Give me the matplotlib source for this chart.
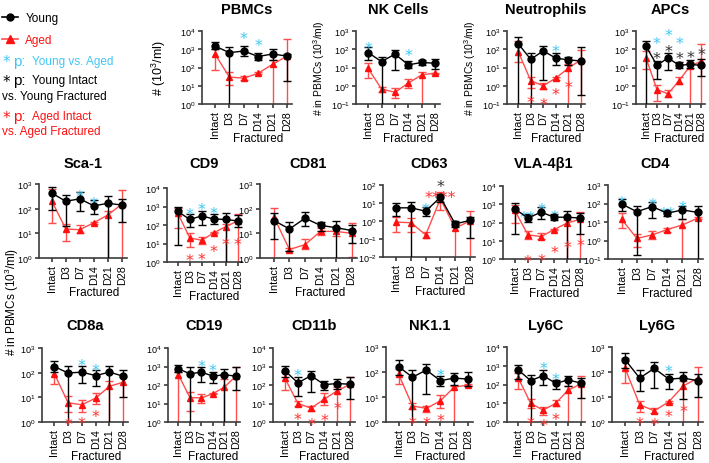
import numpy as np
import matplotlib
matplotlib.use('Agg')
import matplotlib.pyplot as plt
from matplotlib.lines import Line2D
from matplotlib.ticker import LogLocator, NullLocator

plt.rcParams['font.family'] = ['Liberation Sans', 'DejaVu Sans']
plt.rcParams['mathtext.fontset'] = 'custom'
plt.rcParams['mathtext.rm'] = 'Liberation Sans'
plt.rcParams['mathtext.it'] = 'Liberation Sans:italic'
plt.rcParams['mathtext.bf'] = 'Liberation Sans:bold'

W, H = 709, 464
days = ['Intact', 'D3', 'D7', 'D14', 'D21', 'D28']
BOTTOM = 1e-4  # error bars that run off the bottom of the axis

# ---- data: mean, lower and upper error bound, young then aged ----
pbmc_young = [1500, 650, 800, 400, 550, 420]
pbmc_young_lo = [1000, BOTTOM, 420, 250, 250, 18]
pbmc_young_hi = [2400, 1300, 1500, 650, 1000, 550]
pbmc_aged = [550, 30, 26, 48, 150, 420]
pbmc_aged_lo = [75, 11, 20, 42, BOTTOM, BOTTOM]
pbmc_aged_hi = [1000, 55, 33, 55, 250, 3500]

nk_young = [66, 21, 54, 14, 19, 17]
nk_young_lo = [26, BOTTOM, 7.4, 9, 13, 8]
nk_young_hi = [130, 40, 86, 22, 26, 28]
nk_aged = [9, 0.66, 0.44, 1.4, 4, 4.9]
nk_aged_lo = [2.6, 0.48, 0.21, 0.74, BOTTOM, 4.5]
nk_aged_hi = [17, 0.9, 0.74, 2.4, 6, 5.3]

neut_young = [200, 28, 81, 33, 26, 23]
neut_young_lo = [BOTTOM, BOTTOM, 2.1, 14, 13, 0.32]
neut_young_hi = [450, 66, 160, 60, 40, 140]
neut_aged = [74, 1.9, 1.0, 2.6, 9, 26]
neut_aged_lo = [21, 0.74, 0.65, 2.2, BOTTOM, BOTTOM]
neut_aged_hi = [270, 3.2, 1.4, 3.0, 15, 86]

apc_young = [150, 13, 34, 13, 15, 13]
apc_young_lo = [BOTTOM, 2.4, 7, 9, 10, 3.6]
apc_young_hi = [280, 22, 65, 19, 27, 28]
apc_aged = [34, 0.62, 0.36, 1.9, 12, 22]
apc_aged_lo = [7.8, 0.15, 0.25, 1.2, BOTTOM, BOTTOM]
apc_aged_hi = [80, 1.1, 0.55, 3, 18, 200]

sca_young = [430, 200, 250, 130, 165, 140]
sca_young_lo = [90, 20, 83, 60, BOTTOM, 30]
sca_young_hi = [750, 360, 490, 215, 340, 250]
sca_aged = [210, 15, 14, 27, 56, 155]
sca_aged_lo = [27, 4.7, 10, 24, BOTTOM, BOTTOM]
sca_aged_hi = [600, 24, 21, 30, 80, 570]

cd9_young = [540, 200, 310, 210, 200, 165]
cd9_young_lo = [8.5, 75, 100, 120, BOTTOM, 80]
cd9_young_hi = [950, 370, 550, 370, 430, 330]
cd9_aged = [430, 20, 15, 38, 82, 165]
cd9_aged_lo = [70, 6.5, 10, 35, BOTTOM, BOTTOM]
cd9_aged_hi = [800, 35, 22, 42, 120, 400]

cd81_young = [33, 15, 41, 21, 17, 13]
cd81_young_lo = [6, 2, 19, 13, BOTTOM, 4]
cd81_young_hi = [66, 28, 72, 30, 33, 21]
cd81_aged = [45, 2.2, 3.5, 12, 12, 10]
cd81_aged_lo = [BOTTOM, 1.9, 2.4, 8.5, 8, 1.1]
cd81_aged_hi = [110, 2.6, 6, 16, 18, 27]

cd63_young = [5.4, 5.4, 3.5, 21, 0.69, 1.07]
cd63_young_lo = [2, BOTTOM, 2.0, 12, 0.45, 0.11]
cd63_young_hi = [10, 12, 6, 32, 1.05, 1.6]
cd63_aged = [0.87, 0.8, 0.17, 17, 0.4, 1.0]
cd63_aged_lo = [0.24, 0.25, 0.12, 4.2, BOTTOM, BOTTOM]
cd63_aged_hi = [1.6, 1.5, 0.24, 43, 0.6, 3.8]

vla_young = [560, 175, 370, 195, 195, 175]
vla_young_lo = [24, 110, 160, 130, BOTTOM, 24]
vla_young_hi = [1100, 300, 700, 290, 450, 320]
vla_aged = [460, 21, 17, 41, 95, 150]
vla_aged_lo = [100, 12, 12, 37, BOTTOM, BOTTOM]
vla_aged_hi = [900, 35, 25, 45, 130, 370]

cd4_young = [94, 36, 68, 30, 45, 33]
cd4_young_lo = [41, 0.17, 16, 22, 14, BOTTOM]
cd4_young_hi = [175, 70, 115, 42, 70, 70]
cd4_aged = [14, 1.3, 2, 3.9, 7, 16]
cd4_aged_lo = [5, 0.43, 1.2, 3, BOTTOM, 14]
cd4_aged_hi = [30, 2.3, 3.2, 5, 14, 18]

cd8_young = [175, 97, 105, 76, 105, 72]
cd8_young_lo = [105, BOTTOM, 37, 30, BOTTOM, 10]
cd8_young_hi = [290, 195, 190, 130, 190, 130]
cd8_aged = [90, 6, 5, 9.3, 28, 41]
cd8_aged_lo = [35, 2.5, 2.5, 5.5, BOTTOM, BOTTOM]
cd8_aged_hi = [150, 11, 8, 15, 45, 65]

cd19_young = [760, 400, 500, 300, 360, 300]
cd19_young_lo = [500, BOTTOM, 150, 130, BOTTOM, 56]
cd19_young_hi = [1200, 900, 900, 520, 750, 900]
cd19_aged = [360, 21, 20, 34, 78, 300]
cd19_aged_lo = [BOTTOM, 4, 11, 31, BOTTOM, BOTTOM]
cd19_aged_hi = [500, 42, 32, 37, 220, 900]

cd11b_young = [600, 130, 320, 105, 120, 110]
cd11b_young_lo = [270, 26, 40, 55, 60, 17]
cd11b_young_hi = [1100, 260, 600, 170, 200, 260]
cd11b_aged = [240, 10, 5.6, 17, 49, 110]
cd11b_aged_lo = [54, 7.5, 4, 8, BOTTOM, BOTTOM]
cd11b_aged_hi = [500, 13, 7.5, 36, 75, 280]

nk11_young = [165, 62, 120, 45, 57, 52]
nk11_young_lo = [75, BOTTOM, 13, 28, 30, 27]
nk11_young_hi = [290, 115, 210, 70, 95, 100]
nk11_aged = [83, 4.4, 3.5, 7, 25, 30]
nk11_aged_lo = [33, 3.2, 2.5, 3.7, BOTTOM, 28]
nk11_aged_hi = [130, 6, 4.5, 12, 28, 32]

ly6c_young = [600, 160, 300, 115, 175, 120]
ly6c_young_lo = [200, BOTTOM, 90, 60, 80, 18]
ly6c_young_hi = [1150, 320, 560, 180, 280, 230]
ly6c_aged = [225, 9.8, 4.3, 10, 50, 106]
ly6c_aged_lo = [60, 5.5, 2.5, 7, BOTTOM, BOTTOM]
ly6c_aged_hi = [400, 17, 6, 15, 80, 300]

ly6g_young = [310, 57, 140, 52, 57, 45]
ly6g_young_lo = [150, 17, 23, 21, 8, 10]
ly6g_young_hi = [580, 115, 250, 85, 100, 80]
ly6g_aged = [140, 4.9, 2.8, 6.4, 28, 57]
ly6g_aged_lo = [36, 2.6, 2.2, 5.8, BOTTOM, BOTTOM]
ly6g_aged_hi = [360, 7, 3.7, 7, 45, 165]

# significance marks: (day index, log10 height, kind, text)
# kind c = young vs aged, k = young intact vs fractured, r = aged intact vs fractured
pbmc_stars = [(2, 3.91, 'c', '*'), (3, 3.49, 'c', '*')]
nk_stars = [(0, 2.36, 'c', '*'), (3, 1.96, 'c', '*')]
neut_stars = [(3, 2.18, 'c', '*'), (1, -0.58, 'r', '*'), (2, -0.73, 'r', '*'),
              (3, -0.18, 'r', '*'), (4, 0.24, 'r', '*')]
apc_stars = [(1, 2.63, 'c', '*'), (2, 3.06, 'c', '*'), (3, 2.63, 'c', '*'),
             (1, 1.81, 'k', '*'), (2, 2.17, 'k', '*'), (3, 1.81, 'k', '*'),
             (4, 1.86, 'k', '*'), (5, 2.03, 'k', '*')]
sca_stars = [(2, 2.73, 'c', '*'), (3, 2.42, 'c', '*')]
cd9_stars = [(1, 2.85, 'c', '*'), (2, 3.13, 'c', '*'), (3, 2.95, 'c', '*'),
             (1, 0.40, 'r', '*'), (2, 0.45, 'r', '*'), (3, 0.87, 'r', '*'),
             (4, 1.24, 'r', '*'), (5, 1.27, 'r', '*')]
cd81_stars = []
cd63_stars = [(2, 0.95, 'c', '*'), (3, 2.22, 'k', '*'), (3, 1.60, 'r', '****')]
vla_stars = [(1, 2.57, 'c', '**'), (2, 3.03, 'c', '*'), (3, 2.66, 'c', '*'),
             (1, 0.18, 'r', '*'), (2, 0.22, 'r', '*'), (3, 0.64, 'r', '*'),
             (4, 0.95, 'r', '*'), (5, 1.06, 'r', '*')]
cd4_stars = [(0, 2.37, 'c', '*'), (2, 2.24, 'c', '*'), (3, 1.74, 'c', '**'),
             (4, 2.10, 'c', '*')]
cd8_stars = [(2, 2.52, 'c', '*'), (3, 2.31, 'c', '*'), (1, 0.13, 'r', '*'),
             (2, 0.16, 'r', '*'), (3, 0.47, 'r', '*')]
cd19_stars = [(2, 3.33, 'c', '*'), (3, 3.10, 'c', '*')]
cd11b_stars = [(1, 2.82, 'c', '*'), (1, 0.42, 'r', '*'), (2, 0.15, 'r', '*'),
               (3, 0.38, 'r', '*'), (4, 1.05, 'r', '*')]
nk11_stars = [(3, 2.08, 'c', '*'), (1, 0.17, 'r', '*'), (2, 0.17, 'r', '*'),
              (3, 0.28, 'r', '*')]
ly6c_stars = [(2, 3.14, 'c', '*'), (3, 2.57, 'c', '*'), (1, 0.23, 'r', '*'),
              (2, 0.14, 'r', '*'), (3, 0.45, 'r', '*')]
ly6g_stars = [(3, 2.26, 'c', '*'), (1, 0.17, 'r', '*'), (2, 0.11, 'r', '*'),
              (3, 0.44, 'r', '*'), (4, 0.64, 'r', '*')]

BLACK = '#000000'
RED = '#ff1010'
RED_LINE = '#ff4d4d'
CYAN = '#3fc6f4'
SPINE = '#3c3c3c'
STAR_COLORS = {'c': CYAN, 'k': '#333333', 'r': '#ff3030'}

fig = plt.figure(figsize=(W / 100, H / 100), dpi=100)


def px_axes(l, r, t, b):
    return fig.add_axes([l / W, 1 - b / H, (r - l) / W, (b - t) / H])


def panel(box, title, title_y, young, ylo, yhi, aged, alo, ahi, ylim, stars):
    ax = px_axes(*box)
    x = np.arange(len(days))
    young, ylo, yhi = np.array(young), np.array(ylo), np.array(yhi)
    aged, alo, ahi = np.array(aged), np.array(alo), np.array(ahi)
    ax.errorbar(x, aged, yerr=[aged - alo, ahi - aged], color=RED_LINE, lw=1,
                marker='^', ms=4.5, mfc=RED, mec=RED, elinewidth=1,
                capsize=2.6, capthick=1, zorder=2)
    ax.errorbar(x, young, yerr=[young - ylo, yhi - young], color=BLACK, lw=1,
                marker='o', ms=5, elinewidth=1, capsize=2.6, capthick=1,
                zorder=3)
    ax.set_yscale('log')
    ax.set_ylim(*ylim)
    ax.set_xlim(-0.9, 5.35)
    ax.yaxis.set_major_locator(LogLocator(base=10, numticks=12))
    ax.yaxis.set_minor_locator(NullLocator())
    ax.set_xticks(x)
    ax.set_xticklabels(days, rotation=90)
    for s in ['top', 'right']:
        ax.spines[s].set_visible(False)
    for s in ['left', 'bottom']:
        ax.spines[s].set_color(SPINE)
        ax.spines[s].set_linewidth(1.2)
    ax.tick_params(color=SPINE, width=1.2, length=3, pad=1.5)
    ax.tick_params(axis='y', labelsize=6.5)
    ax.tick_params(axis='x', labelsize=7.8)
    ax.annotate('Fractured', xy=(3, 0), xycoords=('data', 'axes fraction'),
                xytext=(0, -24.5), textcoords='offset points', ha='center',
                va='center', fontsize=8.5)
    fig.text((box[0] + box[1]) / 2 / W, 1 - title_y / H, title, ha='center',
             va='baseline', fontsize=10.5, fontweight='bold')
    for xi, ly, kind, txt in stars:
        ax.annotate(txt, (xi, 10 ** ly), xytext=(0, -3), textcoords='offset points',
                    ha='center', va='center_baseline', color=STAR_COLORS[kind],
                    fontsize=11.5, family='DejaVu Sans', annotation_clip=False)
    return ax


ax = panel((202, 292, 32, 105), 'PBMCs', 14, pbmc_young, pbmc_young_lo, pbmc_young_hi,
           pbmc_aged, pbmc_aged_lo, pbmc_aged_hi, (1, 1e4), pbmc_stars)
ax.set_ylabel('# (10$^3$/ml)', fontsize=9, labelpad=9)
ax = panel((356, 440, 32, 105), 'NK Cells', 14, nk_young, nk_young_lo, nk_young_hi,
           nk_aged, nk_aged_lo, nk_aged_hi, (0.1, 1e3), nk_stars)
ax.set_ylabel('# in PBMCs (10$^3$/ml)', fontsize=7.5, labelpad=3)
ax = panel((507, 585, 32, 105), 'Neutrophils', 14, neut_young, neut_young_lo, neut_young_hi,
           neut_aged, neut_aged_lo, neut_aged_hi, (0.1, 1e3), neut_stars)
ax.set_ylabel('# in PBMCs (10$^3$/ml)', fontsize=7.5, labelpad=3)
panel((636, 705, 32, 105), 'APCs', 14, apc_young, apc_young_lo, apc_young_hi,
      apc_aged, apc_aged_lo, apc_aged_hi, (0.1, 1e3), apc_stars)

panel((39, 127, 185, 259), 'Sca-1', 168, sca_young, sca_young_lo, sca_young_hi,
      sca_aged, sca_aged_lo, sca_aged_hi, (1, 1e3), sca_stars)
panel((167, 242, 189, 263), 'CD9', 168, cd9_young, cd9_young_lo, cd9_young_hi,
      cd9_aged, cd9_aged_lo, cd9_aged_hi, (1, 1e4), cd9_stars)
panel((260, 357, 185, 259), 'CD81', 168, cd81_young, cd81_young_lo, cd81_young_hi,
      cd81_aged, cd81_aged_lo, cd81_aged_hi, (1, 1e3), cd81_stars)
panel((383, 475, 186, 258), 'CD63', 168, cd63_young, cd63_young_lo, cd63_young_hi,
      cd63_aged, cd63_aged_lo, cd63_aged_hi, (0.01, 1e2), cd63_stars)
panel((503, 585, 187, 260), 'VLA-4β1', 168, vla_young, vla_young_lo, vla_young_hi,
      vla_aged, vla_aged_lo, vla_aged_hi, (1, 1e4), vla_stars)
panel((608, 703, 186, 260), 'CD4', 168, cd4_young, cd4_young_lo, cd4_young_hi,
      cd4_aged, cd4_aged_lo, cd4_aged_hi, (0.1, 1e3), cd4_stars)

panel((42, 128, 349, 423), 'CD8a', 330, cd8_young, cd8_young_lo, cd8_young_hi,
      cd8_aged, cd8_aged_lo, cd8_aged_hi, (1, 1e3), cd8_stars)
panel((168, 240, 349, 423), 'CD19', 330, cd19_young, cd19_young_lo, cd19_young_hi,
      cd19_aged, cd19_aged_lo, cd19_aged_hi, (1, 1e4), cd19_stars)
panel((273, 355, 349, 423), 'CD11b', 330, cd11b_young, cd11b_young_lo, cd11b_young_hi,
      cd11b_aged, cd11b_aged_lo, cd11b_aged_hi, (1, 1e4), cd11b_stars)
panel((386, 473, 348, 423), 'NK1.1', 330, nk11_young, nk11_young_lo, nk11_young_hi,
      nk11_aged, nk11_aged_lo, nk11_aged_hi, (1, 1e3), nk11_stars)
panel((507, 585, 348, 423), 'Ly6C', 330, ly6c_young, ly6c_young_lo, ly6c_young_hi,
      ly6c_aged, ly6c_aged_lo, ly6c_aged_hi, (1, 1e4), ly6c_stars)
panel((612, 703, 348, 423), 'Ly6G', 330, ly6g_young, ly6g_young_lo, ly6g_young_hi,
      ly6g_aged, ly6g_aged_lo, ly6g_aged_hi, (1, 1e3), ly6g_stars)

# shared y label for the two lower rows
fig.text(12 / W, 1 - 302 / H, '# in PBMCs (10$^3$/ml)', rotation=90,
         ha='center', va='center', fontsize=8.5)

# legend
handles = [Line2D([], [], color=BLACK, marker='o', ms=5, lw=1.2),
           Line2D([], [], color=RED_LINE, marker='^', ms=6, mfc=RED, mec=RED, lw=1.2)]
leg = fig.legend(handles, ['Young', 'Aged'], loc='upper left',
                 bbox_to_anchor=(0, 1 - 11 / H), frameon=False, fontsize=8.5,
                 handlelength=1.4, handletextpad=0.6, labelspacing=0.9,
                 borderpad=0, borderaxespad=0.15)
leg.get_texts()[1].set_color(RED)

# significance key: star, large "p:", then the description
notes = [(62, CYAN, 'Young vs. Aged'),
         (81, BLACK, 'Young Intact'),
         (117, RED, 'Aged Intact')]
for y, c, t in notes:
    fig.text(6 / W, 1 - (y + 1) / H, '*', color=c, fontsize=11, family='DejaVu Sans',
             ha='center', va='center')
    fig.text(13 / W, 1 - y / H, 'p:', color=c, fontsize=11, ha='left', va='center')
    fig.text(32 / W, 1 - y / H, t, color=c, fontsize=8.5, ha='left', va='center')
for y, c, t in [(97, BLACK, 'vs. Young Fractured'), (132, RED, 'vs. Aged Fractured')]:
    fig.text(2 / W, 1 - y / H, t, color=c, fontsize=8.5, ha='left', va='center')

fig.savefig('out.png', dpi=100)
